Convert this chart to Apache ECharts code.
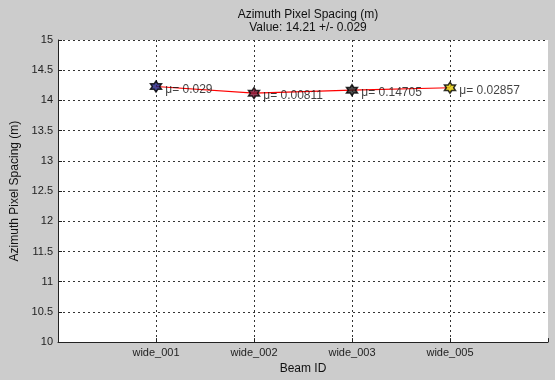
<!DOCTYPE html>
<html>
<head>
<meta charset="utf-8">
<script src="https://cdn.jsdelivr.net/npm/echarts@6/dist/echarts.min.js"></script>
<style>
html,body{margin:0;padding:0;background:#cccccc;}
#chart{width:555px;height:380px;}
</style>
</head>
<body>
<div id="chart"></div>
<script>
const categories = ['wide_001', 'wide_002', 'wide_003', 'wide_005'];
const positions = [1, 2, 3, 4];
const values = [14.23, 14.12, 14.17, 14.21];
const pointLabels = ['\u03bc= 0.029', '\u03bc= 0.00811', '\u03bc= 0.14705', '\u03bc= 0.02857'];
const markerFills = ['#1b1b7a', '#7a1030', '#222222', '#e0c800'];
const yTicks = [10, 10.5, 11, 11.5, 12, 12.5, 13, 13.5, 14, 14.5, 15];
const titleText = 'Azimuth Pixel Spacing (m)';
const subtitleText = 'Value: 14.21 +/- 0.029';

const font = 'Liberation Sans, Arial, sans-serif';
const chart = echarts.init(document.getElementById('chart'), null, {renderer: 'canvas'});
const pts = positions.map((p, i) => [p, values[i]]);
const hexagram = 'path://M0,-10L2.89,-5L8.66,-5L5.77,0L8.66,5L2.89,5L0,10L-2.89,5L-8.66,5L-5.77,0L-8.66,-5L-2.89,-5Z';

chart.setOption({
  backgroundColor: '#cccccc',
  animation: false,
  title: {
    text: titleText + '\n' + subtitleText,
    left: 303, top: 3, textAlign: 'center',
    textStyle: {fontFamily: font, fontSize: 12, fontWeight: 'normal', color: '#111', lineHeight: 13}
  },
  grid: {left: 58, top: 40, right: 7, bottom: 29, show: true, backgroundColor: '#ffffff', borderWidth: 0},
  xAxis: {
    type: 'value', min: 0, max: 5, interval: 1,
    name: 'Beam ID', nameLocation: 'middle', nameGap: 15,
    nameTextStyle: {fontFamily: font, fontSize: 12, color: '#111'},
    axisLine: {show: true, lineStyle: {color: '#222', width: 1}},
    axisTick: {show: true, inside: true, length: 4, lineStyle: {color: '#222'}},
    axisLabel: {
      fontFamily: font, fontSize: 11, color: '#222', margin: 5,
      formatter: v => { const i = positions.indexOf(v); return i >= 0 ? categories[i] : ''; }
    },
    splitLine: {show: true, showMinLine: false, showMaxLine: false, lineStyle: {color: '#333', type: [2, 3], width: 1}}
  },
  yAxis: {
    type: 'value', min: yTicks[0], max: yTicks[yTicks.length - 1], interval: 0.5,
    name: 'Azimuth Pixel Spacing (m)', nameLocation: 'middle', nameGap: 29,
    nameTextStyle: {fontFamily: font, fontSize: 12, color: '#111'},
    axisLine: {show: true, lineStyle: {color: '#222', width: 1}},
    axisTick: {show: true, inside: true, length: 4, lineStyle: {color: '#222'}},
    axisLabel: {fontFamily: font, fontSize: 11, color: '#222', margin: 5, formatter: v => String(v)},
    splitLine: {show: true, showMinLine: false, lineStyle: {color: '#333', type: [2, 3], width: 1}}
  },
  series: [
    {
      type: 'line', data: pts, showSymbol: false, symbol: 'none',
      lineStyle: {color: '#ff0000', width: 1.2}, z: 2
    },
    {
      type: 'scatter', data: pts.map((p, i) => ({value: p, itemStyle: {color: markerFills[i]}})),
      symbol: hexagram, symbolSize: 11,
      itemStyle: {borderColor: '#000', borderWidth: 1.5},
      label: {
        show: true, position: 'right', distance: 3, offset: [0, 3],
        fontFamily: font, fontSize: 12, color: '#111',
        formatter: p => pointLabels[p.dataIndex]
      },
      z: 3
    }
  ]
});
</script>
</body>
</html>
